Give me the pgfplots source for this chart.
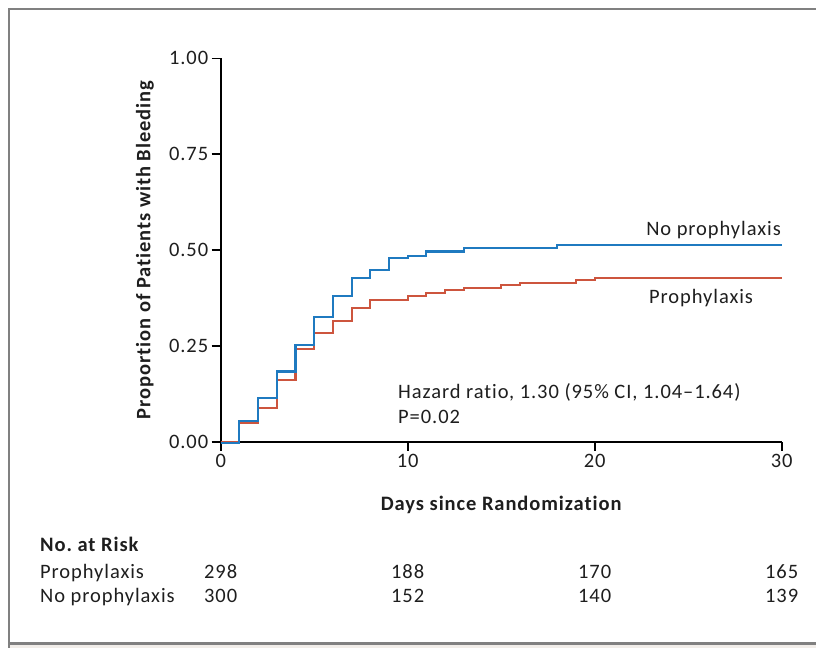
\documentclass[border=0pt]{standalone}
\usepackage{pgfplots}
\pgfplotsset{compat=1.18}
\usepackage{fontspec}
\setmainfont{Carlito}[LetterSpace=4.5, Ligatures={NoCommon}]
\definecolor{kmblue}{RGB}{31,122,192}
\definecolor{kmred}{RGB}{205,85,62}
\definecolor{framegray}{RGB}{128,128,128}
\definecolor{bandgray}{RGB}{241,237,233}
\definecolor{txt}{RGB}{30,30,30}
\begin{document}
\begin{tikzpicture}[font=\fontsize{20.5bp}{24bp}\selectfont, text=txt]
\path[use as bounding box] (0,0) rectangle (816bp,-648bp);
\fill[bandgray] (9bp,-643bp) rectangle (816bp,-648bp);
\draw[framegray, line width=2.5bp] (9bp,-648bp) -- (9bp,-9bp) -- (816bp,-9bp);
\draw[framegray, line width=2.5bp] (9bp,-643.3bp) -- (816bp,-643.3bp);
\begin{axis}[
  at={(220.7bp,-441.7bp)}, anchor=south west,
  scale only axis, width=561bp, height=383.4bp,
  xmin=0, xmax=30, ymin=0, ymax=1,
  axis x line*=bottom, axis y line*=left,
  axis line style={line width=1.6bp, black},
  tick align=outside, major tick length=9bp,
  tick style={line width=1.6bp, black},
  xtick={0,10,20,30}, ytick={0,0.25,0.5,0.75,1},
  /pgf/number format/assume math mode=true,
  yticklabel style={/pgf/number format/.cd, fixed, fixed zerofill, precision=2},
  xlabel={\bfseries Days since Randomization},
  ylabel={\bfseries Proportion of Patients with Bleeding},
  xlabel style={at={(axis description cs:0.5,0)}, anchor=base, yshift=-68.3bp},
  ylabel style={at={(axis description cs:-0.135,0.5)}, anchor=center},
  clip=false,
]
\addplot[const plot, color=kmred, line width=2.1bp] coordinates {
(0,0) (1,0.048) (2,0.088) (3,0.162) (4,0.241) (5,0.283) (6,0.314) (7,0.348)
(8,0.370) (10,0.379) (11,0.388) (12,0.395) (13,0.401) (15,0.408) (16,0.414)
(19,0.421) (20,0.427) (30,0.427)};
\addplot[const plot, color=kmblue, line width=2.1bp] coordinates {
(0,-0.004) (1,0.053) (2,0.114) (3,0.183) (4,0.252) (5,0.326) (6,0.379) (7,0.427)
(8,0.447) (9,0.480) (10,0.484) (11,0.496) (13,0.505) (18,0.512) (30,0.512)};
\end{axis}
\node[anchor=base east, inner sep=0pt] at (781bp,-235bp) {No prophylaxis};
\node[anchor=base west, inner sep=0pt] at (649bp,-303bp) {Prophylaxis};
\node[anchor=base west, inner sep=0pt] at (398bp,-398bp) {Hazard ratio, 1.30 (95\% CI, 1.04--1.64)};
\node[anchor=base west, inner sep=0pt] at (398bp,-423bp) {P=0.02};
\node[anchor=base west, inner sep=0pt] at (40bp,-551bp) {\bfseries No.\ at Risk};
\node[anchor=base west, inner sep=0pt] at (40bp,-578bp) {Prophylaxis};
\node[anchor=base west, inner sep=0pt] at (40bp,-602bp) {No prophylaxis};
\foreach \x/\a/\b in {220.7/298/300, 407.7/188/152, 594.7/170/140, 781.7/165/139}{
  \node[anchor=base, inner sep=0pt] at (\x bp,-578bp) {\a};
  \node[anchor=base, inner sep=0pt] at (\x bp,-602bp) {\b};
}
\end{tikzpicture}
\end{document}
